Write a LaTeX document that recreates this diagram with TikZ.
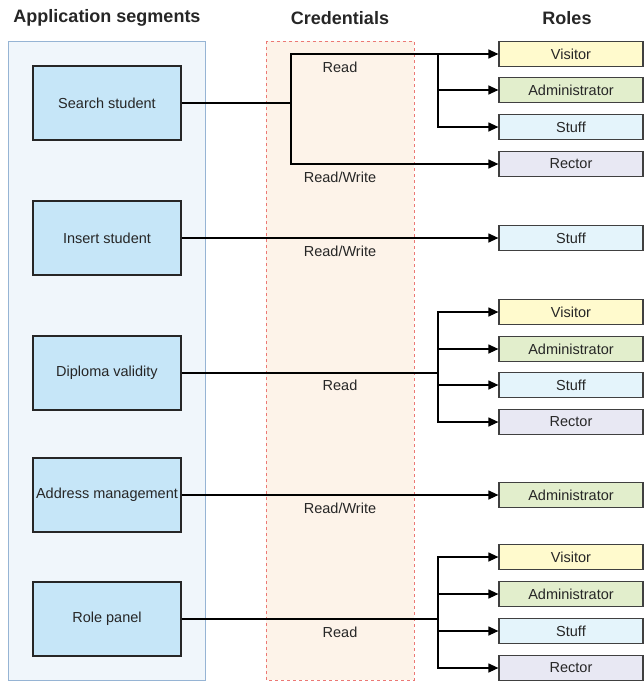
\documentclass[tikz,border=0pt]{standalone}
\usepackage{fontspec}
\setmainfont{Liberation Sans}
\def\largeur{643}
\def\hauteur{683}
\usetikzlibrary{arrows.meta}
\definecolor{panelfill}{RGB}{240,246,251}
\definecolor{panelline}{RGB}{150,180,212}
\definecolor{credfill}{RGB}{253,243,233}
\definecolor{credline}{RGB}{236,120,116}
\definecolor{segfill}{RGB}{198,230,248}
\definecolor{visitorfill}{RGB}{255,250,205}
\definecolor{adminfill}{RGB}{226,238,204}
\definecolor{stufffill}{RGB}{228,244,251}
\definecolor{rectorfill}{RGB}{232,232,243}
\tikzset{
  title/.style={font=\fontsize{18}{20}\selectfont\bfseries},
  seg/.style={draw=black!85, fill=segfill, minimum width=148pt, minimum height=74pt, inner sep=0pt},
  role/.style={draw=black!75, minimum width=144pt, minimum height=25pt, inner sep=0pt},
  link/.style={-{Triangle[length=10pt,width=9pt]}},
}

\begin{document}
\begin{tikzpicture}[x=1pt, y=-1pt, line width=1.2pt, text=black!85, font=\fontsize{14.5}{17}\selectfont]
\useasboundingbox (0,0) rectangle (\largeur,\hauteur);
% panels
\draw[panelline, fill=panelfill, line width=0.8pt] (8.5,41) rectangle (205,680);
\draw[credline, fill=credfill, dashed, line width=0.7pt] (266,41) rectangle (414,680);
\node[title] (tseg) at (107,18) {Application segments};
\node[title] (tcred) at (340,18) {Credentials};
\node[title] (troles) at (567,18) {Roles};

% segments
\node[seg] (search) at (107,103) {Search student};
\node[seg] (insert) at (107,238) {Insert student};
\node[seg] (diploma) at (107,373) {Diploma validity};
\node[seg] (address) at (107,495) {Address management};
\node[seg] (panel) at (107,619) {Role panel};

% roles
\foreach \n/\y/\c/\t in {v1/54/visitor/Visitor, a1/90/admin/Administrator, s1/127/stuff/Stuff, r1/164/rector/Rector,
    s2/238/stuff/Stuff,
    v3/312/visitor/Visitor, a3/349/admin/Administrator, s3/385/stuff/Stuff, r3/422/rector/Rector,
    a4/495/admin/Administrator,
    v5/557/visitor/Visitor, a5/594/admin/Administrator, s5/631/stuff/Stuff, r5/668/rector/Rector}
  \node[role, fill=\c fill] (\n) at (571,\y) {\t};

% credentials
\node (c1) at (340,67) {Read};
\node (c1w) at (340,177) {Read/Write};
\node (c2) at (340,251) {Read/Write};
\node (c3) at (340,385) {Read};
\node (c4) at (340,508) {Read/Write};
\node (c5) at (340,632) {Read};

% search student
\coordinate (j1) at (291,103);
\coordinate (k1) at (438,54);
\draw (search) -- (j1);
\draw[link] (j1) |- (v1.west);
\draw[link] (j1) |- (r1.west);
\draw[link] (k1) |- (a1.west);
\draw[link] (k1) |- (s1.west);

% insert student
\draw[link] (insert) -- (s2.west);

% diploma validity
\coordinate (k3) at (438,373);
\draw (diploma) -- (k3);
\foreach \n in {v3,a3,s3,r3} \draw[link] (k3) |- (\n.west);

% address management
\draw[link] (address) -- (a4.west);

% role panel
\coordinate (k5) at (438,619);
\draw (panel) -- (k5);
\foreach \n in {v5,a5,s5,r5} \draw[link] (k5) |- (\n.west);
\end{tikzpicture}
\end{document}
